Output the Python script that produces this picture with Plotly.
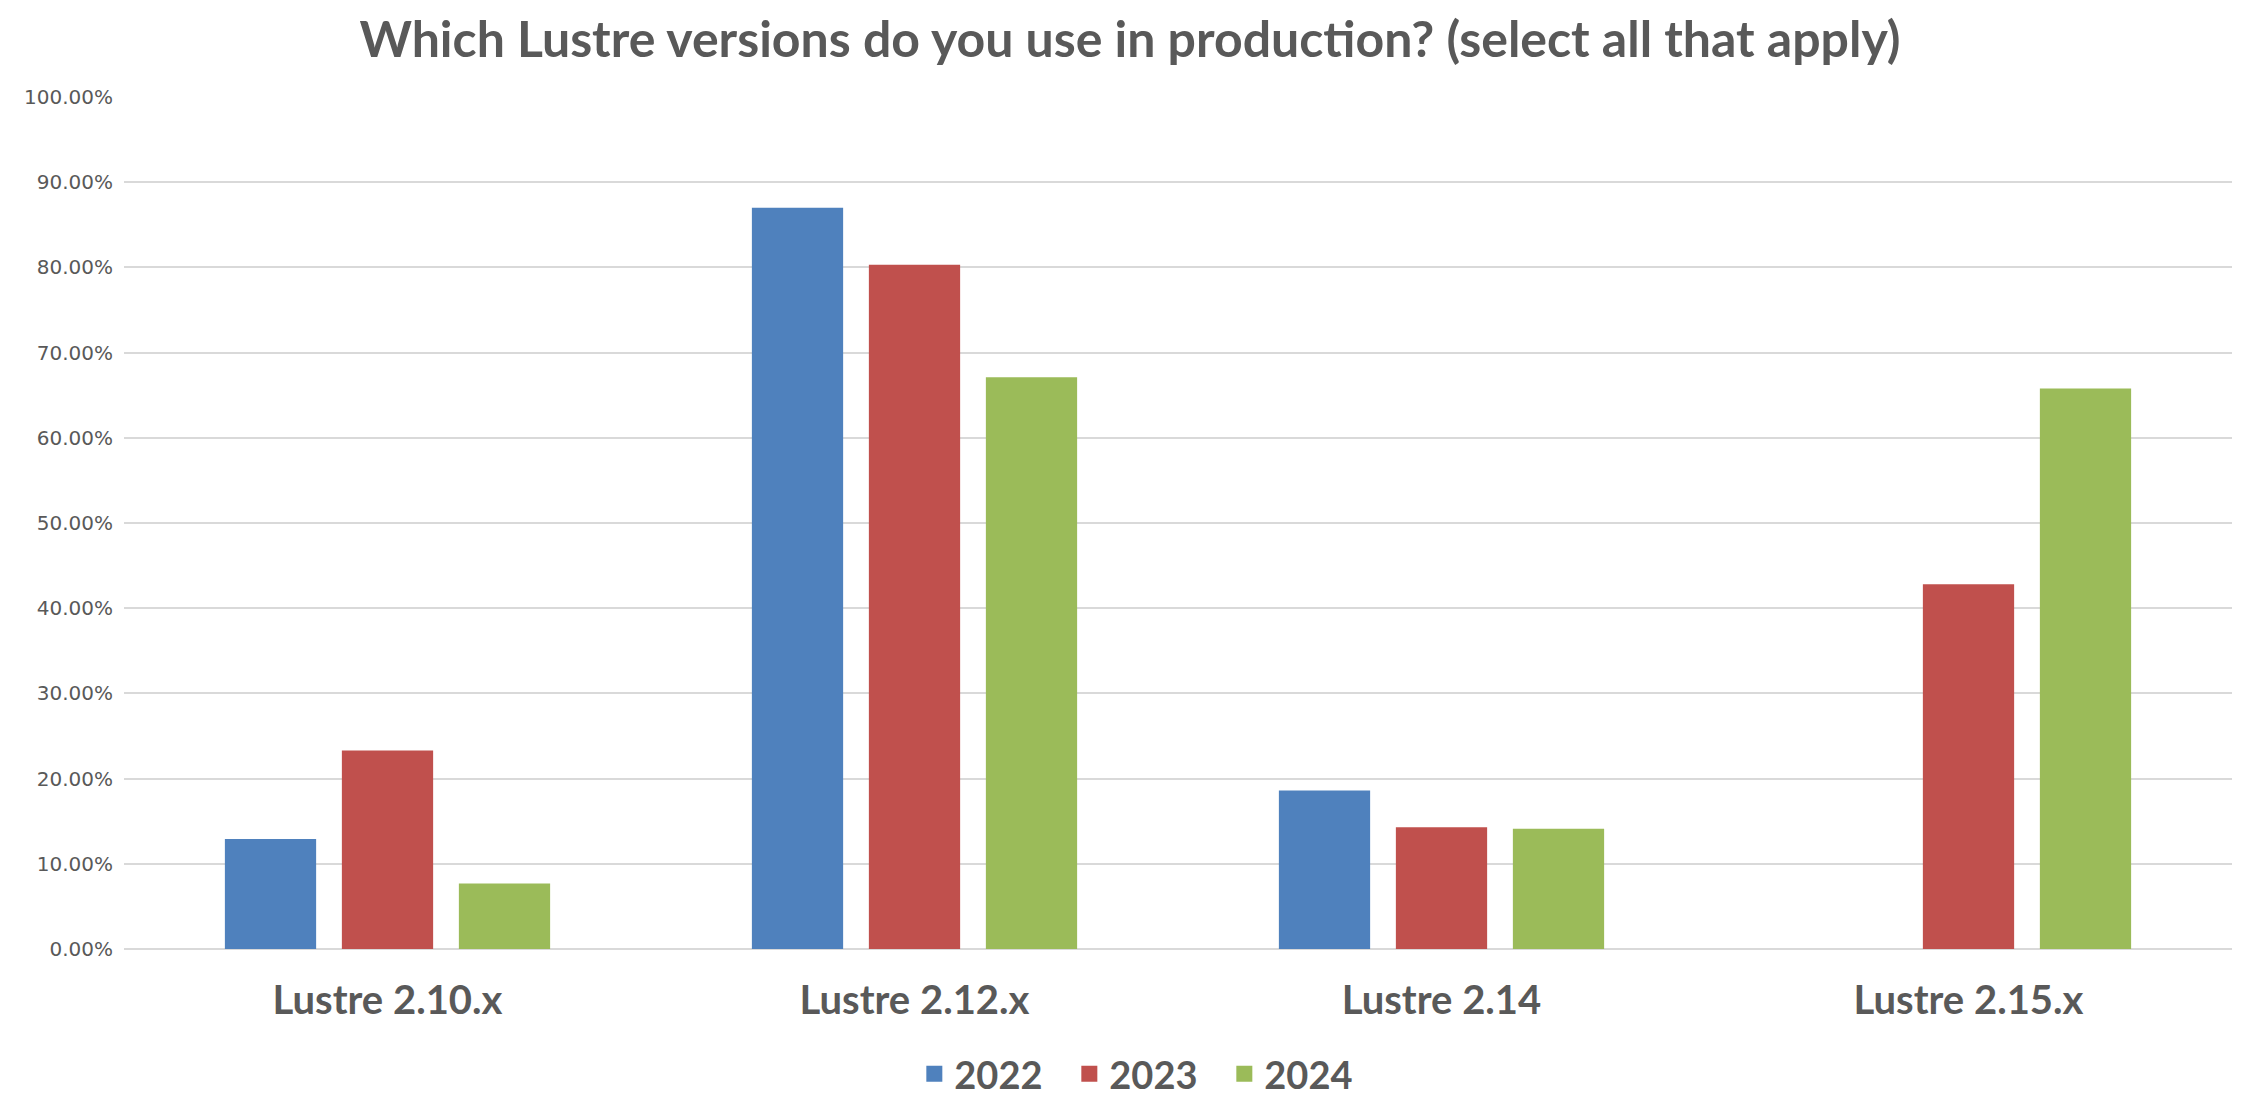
import plotly.graph_objects as go

categories = ["Lustre 2.10.x", "Lustre 2.12.x", "Lustre 2.14", "Lustre 2.15.x"]
series_names = ["2022", "2023", "2024"]
values_2022 = [0.129, 0.870, 0.186, None]
values_2023 = [0.233, 0.803, 0.143, 0.428]
values_2024 = [0.077, 0.671, 0.141, 0.658]
colors = ["#4F81BD", "#C0504D", "#9BBB59"]
y_ticks = [0, 0.1, 0.2, 0.3, 0.4, 0.5, 0.6, 0.7, 0.8, 0.9, 1.0]
title_text = "Which Lustre versions do you use in production? (select all that apply)"

fig = go.Figure()
for name, vals, col in zip(series_names, [values_2022, values_2023, values_2024], colors):
    fig.add_trace(go.Bar(x=categories, y=vals, name=name, legendgroup=name, showlegend=False,
                         marker=dict(color=col, line=dict(width=0))))
# legend-only entries with larger square swatches
for name, col in zip(series_names, colors):
    fig.add_trace(go.Scatter(x=[None], y=[None], mode="markers", name=name, legendgroup=name,
                             marker=dict(symbol="square", size=23, color=col), showlegend=True))

fig.update_layout(
    width=2244, height=1094,
    paper_bgcolor="white", plot_bgcolor="white",
    margin=dict(l=116, r=20, t=89, b=153),
    barmode="group", bargap=0.334, bargroupgap=0.22,
    title=dict(text=title_text, x=0.5, xanchor="center", y=1 - 31 / 1094, yanchor="middle", yref="container",
               font=dict(family="Lato", size=50, color="#595959", weight="bold")),
    legend=dict(orientation="h", x=0.5075, xanchor="center", xref="container",
                y=1 - 1066 / 1094, yanchor="middle", yref="container",
                font=dict(family="Lato", size=38, color="#595959", weight="bold"), itemwidth=30,
                entrywidth=110, entrywidthmode="pixels"),
    showlegend=True,
)
fig.update_yaxes(range=[0, 1.0], tickvals=y_ticks, tickformat=".2%", showgrid=True, gridcolor="#D9D9D9", gridwidth=1.5,
                 zeroline=True, zerolinecolor="#D9D9D9", zerolinewidth=2, showline=False, automargin=False,
                 tickfont=dict(family="DejaVu Sans", size=20, color="#595959"), ticks="", ticklabelstandoff=10)
fig.update_xaxes(showgrid=False, showline=False, ticks="", ticklabelstandoff=24, automargin=False,
                 tickfont=dict(family="Lato", size=40, color="#595959", weight="bold"))

fig.write_html("out.html")
